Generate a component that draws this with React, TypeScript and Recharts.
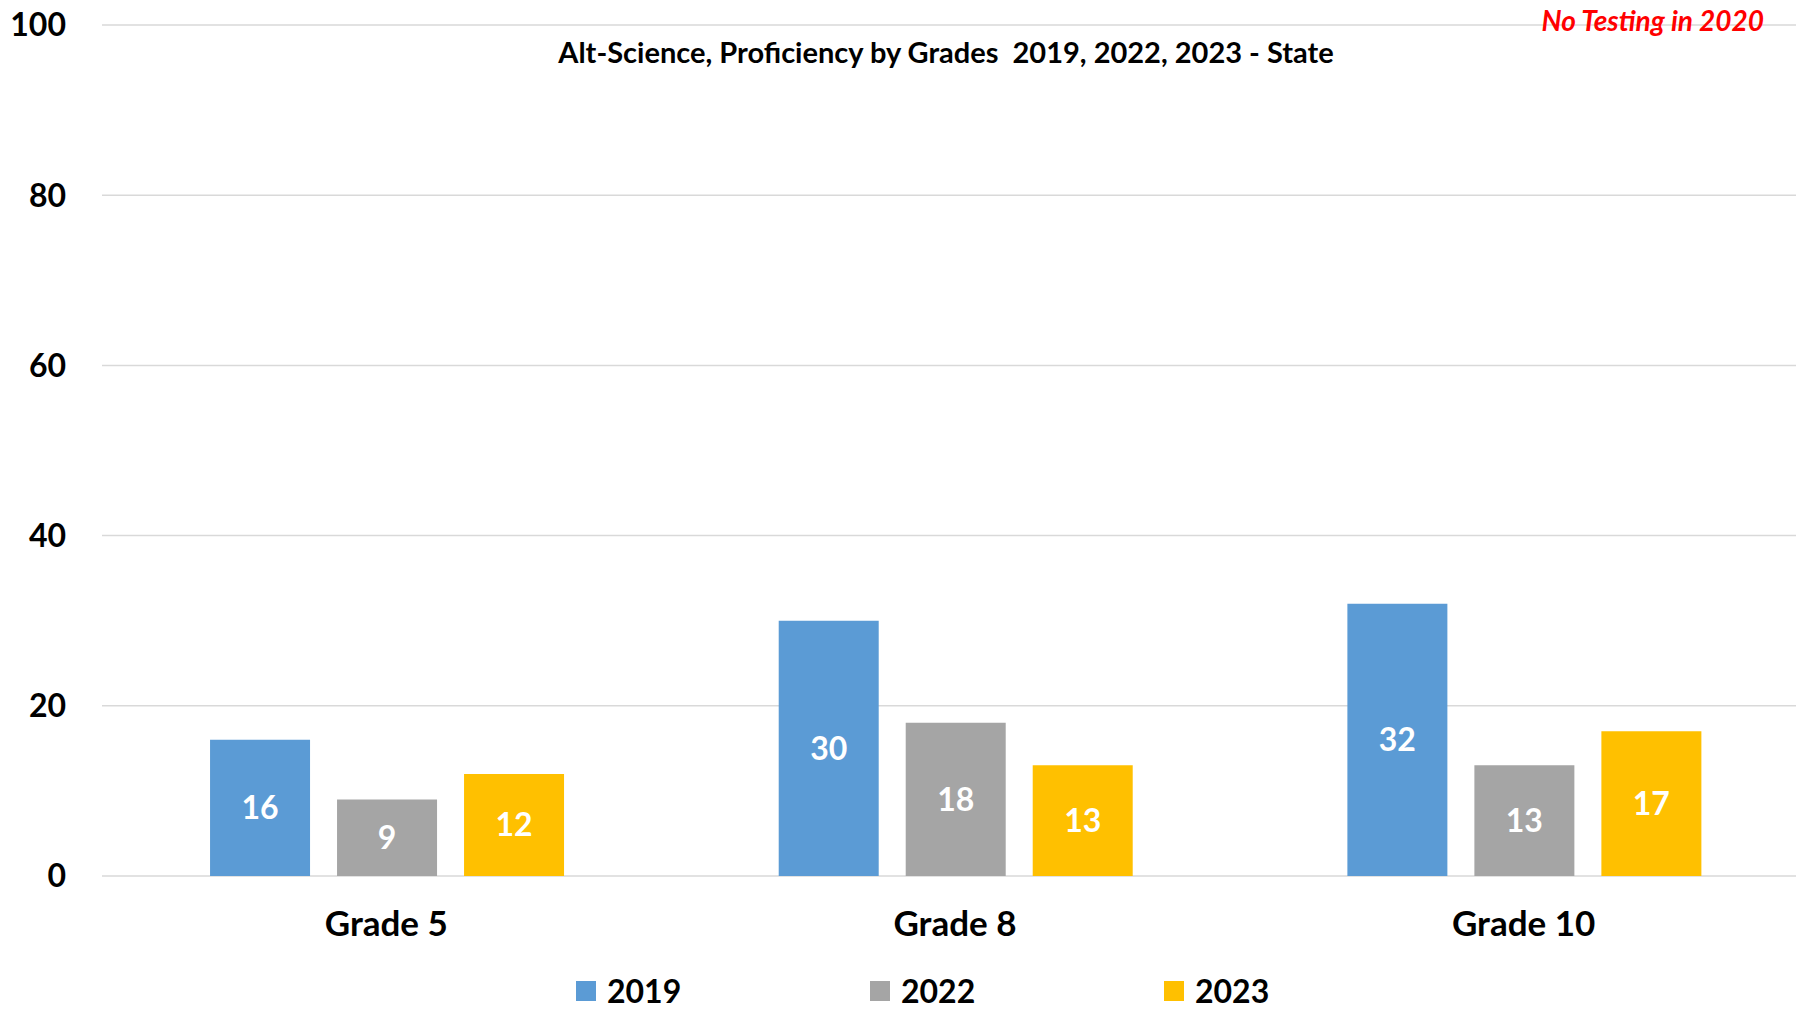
import { BarChart, Bar, XAxis, YAxis, CartesianGrid, LabelList, Legend } from 'recharts';

const grades = ['Grade 5', 'Grade 8', 'Grade 10'];
const y2019 = [16, 30, 32];
const y2022 = [9, 18, 13];
const y2023 = [12, 13, 17];
const yTicks = [0, 20, 40, 60, 80, 100];

const series = [
  { key: 'y2019', name: '2019', color: '#5B9BD5' },
  { key: 'y2022', name: '2022', color: '#A5A5A5' },
  { key: 'y2023', name: '2023', color: '#FFC000' },
];

const data = grades.map((g, i) => ({
  grade: g,
  y2019: y2019[i],
  y2022: y2022[i],
  y2023: y2023[i],
}));

const font = 'Lato, "Open Sans", sans-serif';

function LegendRow({ payload }: any) {
  return (
    <div style={{ display: 'flex', alignItems: 'center', paddingLeft: 576, height: 32 }}>
      {(payload || []).map((p: any) => (
        <div key={p.value} style={{ display: 'flex', alignItems: 'center', width: 294 }}>
          <span style={{ width: 20, height: 20, background: p.color, display: 'inline-block', marginRight: 11 }} />
          <span style={{ fontFamily: font, fontWeight: 700, fontSize: 32, lineHeight: '32px', color: '#000' }}>
            {p.value}
          </span>
        </div>
      ))}
    </div>
  );
}

export default function App() {
  return (
    <div
      style={{
        position: 'fixed',
        left: 0,
        top: 0,
        width: 1796,
        height: 1013,
        overflow: 'hidden',
        background: '#fff',
      }}
    >
      <BarChart
        width={1810}
        height={1013}
        data={data}
        margin={{ top: 25, right: 2, bottom: 0, left: 0 }}
        barCategoryGap="19%"
        barGap={27}
      >
        <CartesianGrid vertical={false} stroke="#D9D9D9" strokeWidth={1.5} />
        <XAxis
          dataKey="grade"
          axisLine={false}
          tickLine={false}
          tickSize={0}
          tickMargin={35}
          height={105}
          tick={{ fontFamily: font, fontWeight: 700, fontSize: 35, fill: '#000' }}
        />
        <YAxis
          domain={[0, 100]}
          ticks={yTicks}
          width={102}
          axisLine={false}
          tickLine={false}
          tickSize={0}
          tickMargin={36}
          tick={{ fontFamily: font, fontWeight: 700, fontSize: 32, fill: '#000' }}
        />
        <Legend
          verticalAlign="bottom"
          content={<LegendRow />}
          wrapperStyle={{ left: 0, width: 1796, bottom: 'auto', top: 975 }}
        />
        {series.map((s) => (
          <Bar key={s.key} dataKey={s.key} name={s.name} fill={s.color} isAnimationActive={false}>
            <LabelList
              dataKey={s.key}
              position="center"
              fill="#fff"
              style={{ fontFamily: font, fontWeight: 700, fontSize: 32 }}
            />
          </Bar>
        ))}
      </BarChart>
      <div
        style={{
          position: 'absolute',
          left: 0,
          width: 1892,
          top: 34,
          textAlign: 'center',
          fontFamily: font,
          fontWeight: 700,
          fontSize: 29,
          color: '#000',
          whiteSpace: 'pre',
        }}
      >
        {'Alt-Science, Proficiency by Grades  2019, 2022, 2023 - State'}
      </div>
      <div
        style={{
          position: 'absolute',
          right: 32,
          top: 3,
          fontFamily: font,
          fontWeight: 700,
          fontStyle: 'italic',
          fontSize: 28,
          color: '#FF0000',
        }}
      >
        No Testing in 2020
      </div>
    </div>
  );
}
